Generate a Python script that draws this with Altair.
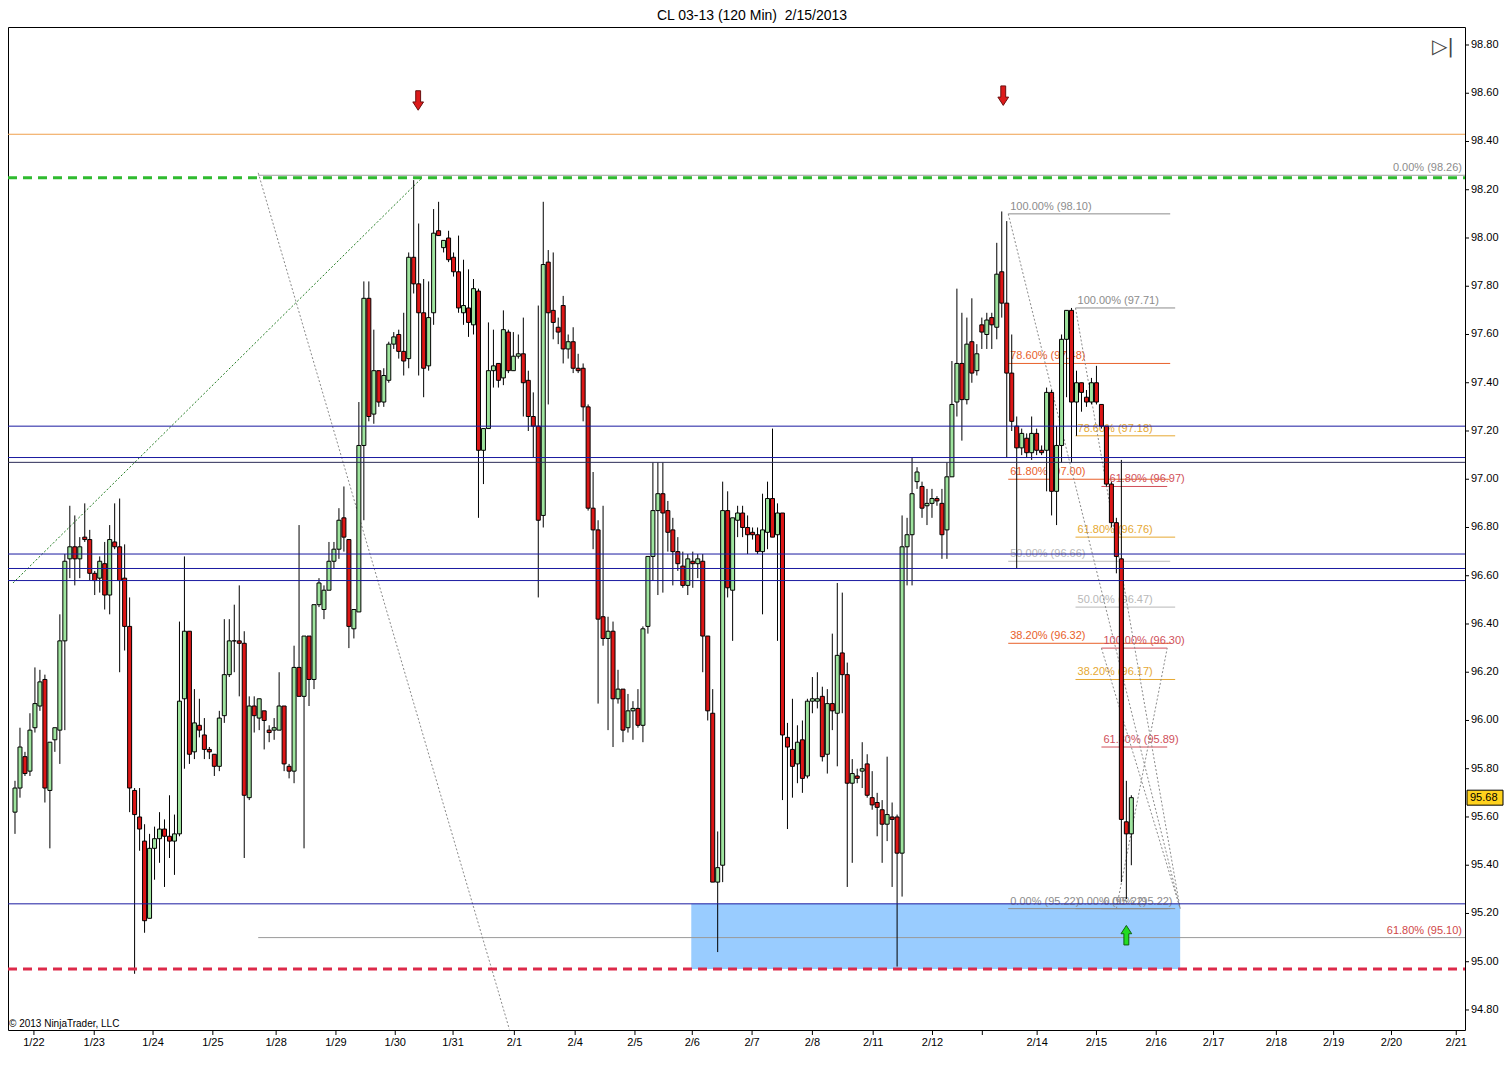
import altair as alt
import pandas as pd

# ---------------- candle data (CL 03-13, 120 min bars) ----------------
opens = [95.62, 95.72, 95.85, 95.79, 95.97, 96.06, 96.17, 95.71, 95.92, 95.96,
         96.33, 96.67, 96.72, 96.67, 96.76, 96.75, 96.61, 96.59, 96.65, 96.52,
         96.74, 96.72, 96.59, 96.39, 95.71, 95.60, 95.50, 95.18, 95.47, 95.51,
         95.55, 95.52, 95.50, 95.53, 96.09, 96.37, 95.87, 95.98, 95.94, 95.88,
         95.86, 95.81, 96.02, 96.19, 96.33, 96.33, 96.32, 95.68, 96.06, 96.01,
         96.04, 95.96, 95.96, 95.96, 96.06, 95.81, 95.79, 96.22, 96.10, 96.35,
         96.17, 96.48, 96.46, 96.54, 96.66, 96.71, 96.84, 96.75, 96.38, 96.45,
         97.14, 97.75, 97.27, 97.45, 97.32, 97.41, 97.56, 97.60, 97.53, 97.50,
         97.92, 97.81, 97.69, 97.47, 97.69, 98.03, 97.96, 98.00, 97.92, 97.86,
         97.69, 97.71, 97.64, 97.78, 97.12, 97.21, 97.45, 97.48, 97.42, 97.61,
         97.45, 97.51, 97.52, 97.41, 97.26, 97.22, 96.85, 97.90, 97.70, 97.63,
         97.72, 97.54, 97.57, 97.46, 97.46, 97.30, 96.88, 96.79, 96.43, 96.34,
         96.37, 96.09, 96.13, 95.97, 96.04, 96.05, 95.98, 96.39, 96.68, 96.87,
         96.94, 96.87, 96.79, 96.70, 96.64, 96.56, 96.66, 96.65, 96.66, 96.35,
         96.03, 95.33, 95.40, 96.87, 96.54, 96.83, 96.86, 96.80, 96.78, 96.77,
         96.70, 96.78, 96.92, 96.77, 96.86, 95.93, 95.88, 95.82, 95.92, 95.77,
         96.08, 96.08, 96.10, 95.86, 96.07, 96.03, 96.28, 96.19, 95.74, 95.77,
         95.79, 95.82, 95.68, 95.66, 95.63, 95.57, 95.60, 95.60, 95.45, 96.72,
         96.77, 96.99, 96.97, 96.89, 96.90, 96.92, 96.90, 96.79, 97.01, 97.32,
         97.48, 97.33, 97.57, 97.45, 97.64, 97.60, 97.67, 97.63, 97.86, 97.73,
         97.44, 97.22, 97.13, 97.17, 97.11, 97.19, 97.12, 97.12, 97.36, 96.95,
         97.14, 97.58, 97.70, 97.32, 97.40, 97.34, 97.32, 97.40, 97.31, 97.22,
         96.98, 96.82, 96.67, 95.58, 95.53]

highs = [95.75, 95.97, 95.87, 96.03, 96.22, 96.21, 96.19, 95.91, 95.97, 96.44,
         96.69, 96.89, 96.85, 96.76, 96.90, 96.79, 96.62, 96.68, 96.74, 96.81,
         96.90, 96.92, 96.73, 96.51, 95.72, 95.72, 95.57, 95.53, 95.56, 95.62,
         95.59, 95.69, 95.61, 96.41, 96.68, 96.37, 96.13, 96.09, 96.01, 95.89,
         95.86, 96.04, 96.42, 96.42, 96.48, 96.56, 96.37, 96.10, 96.10, 96.09,
         96.04, 95.98, 96.01, 96.20, 96.06, 95.82, 96.31, 96.81, 96.35, 96.35,
         96.48, 96.59, 96.56, 96.74, 96.74, 96.88, 96.97, 96.75, 96.46, 97.32,
         97.82, 97.82, 97.62, 97.45, 97.46, 97.57, 97.61, 97.62, 97.69, 97.94,
         98.24, 98.06, 97.83, 97.82, 98.12, 98.15, 97.99, 98.03, 97.94, 98.01,
         97.91, 97.87, 97.83, 97.79, 97.21, 97.65, 97.62, 97.48, 97.70, 97.62,
         97.61, 97.60, 97.67, 97.45, 97.36, 97.72, 98.15, 97.95, 97.94, 97.67,
         97.76, 97.60, 97.63, 97.52, 97.48, 97.31, 97.03, 96.83, 96.89, 96.43,
         96.41, 96.21, 96.13, 96.11, 96.08, 96.13, 96.39, 96.68, 97.07, 97.07,
         97.07, 96.91, 96.84, 96.76, 96.70, 96.69, 96.70, 96.69, 96.69, 96.35,
         96.13, 95.54, 96.99, 96.95, 96.84, 96.89, 96.89, 96.85, 96.80, 96.80,
         96.94, 96.99, 97.21, 96.90, 96.86, 95.99, 96.09, 95.98, 96.00, 96.09,
         96.18, 96.20, 96.14, 96.13, 96.36, 96.57, 96.53, 96.24, 95.84, 95.80,
         95.91, 95.86, 95.79, 95.70, 95.67, 95.85, 95.66, 95.61, 96.85, 96.84,
         97.09, 97.05, 96.99, 96.96, 96.96, 96.93, 96.96, 97.07, 97.49, 97.79,
         97.69, 97.67, 97.75, 97.56, 97.67, 97.69, 97.69, 97.98, 98.11, 98.07,
         97.60, 97.26, 97.21, 97.19, 97.26, 97.21, 97.14, 97.38, 97.37, 97.22,
         97.60, 97.70, 97.71, 97.45, 97.40, 97.37, 97.42, 97.47, 97.31, 97.22,
         96.99, 96.84, 97.08, 95.75, 95.69]

lows = [95.53, 95.68, 95.77, 95.77, 95.95, 96.04, 95.66, 95.47, 95.87, 95.82,
        95.96, 96.59, 96.56, 96.59, 96.74, 96.58, 96.52, 96.53, 96.46, 96.44,
        96.71, 96.20, 96.29, 95.62, 94.95, 95.46, 95.12, 95.18, 95.34, 95.41,
        95.31, 95.43, 95.36, 95.52, 95.80, 95.82, 95.84, 95.93, 95.84, 95.84,
        95.77, 95.79, 95.99, 96.18, 96.20, 96.10, 95.43, 95.67, 95.95, 95.96,
        95.88, 95.91, 95.92, 95.96, 95.79, 95.76, 95.74, 96.10, 95.47, 96.06,
        96.13, 96.47, 96.42, 96.54, 96.63, 96.67, 96.70, 96.30, 96.34, 96.45,
        96.83, 97.24, 97.23, 97.30, 97.30, 97.40, 97.54, 97.50, 97.43, 97.46,
        97.77, 97.43, 97.34, 97.45, 97.64, 98.01, 97.94, 97.90, 97.84, 97.69,
        97.64, 97.59, 97.60, 96.84, 96.98, 97.21, 97.38, 97.38, 97.39, 97.44,
        97.45, 97.50, 97.26, 97.20, 97.09, 96.51, 96.80, 97.31, 97.58, 97.56,
        97.48, 97.50, 97.44, 97.44, 97.24, 96.87, 96.71, 96.07, 96.31, 95.96,
        95.89, 96.07, 95.91, 95.95, 95.92, 95.97, 95.91, 96.36, 96.58, 96.52,
        96.53, 96.70, 96.56, 96.62, 96.55, 96.52, 96.55, 96.59, 96.20, 96.00,
        95.33, 95.04, 95.33, 96.51, 96.33, 96.76, 96.76, 96.69, 96.75, 96.69,
        96.44, 96.71, 96.76, 96.33, 95.67, 95.55, 95.68, 95.74, 95.70, 95.76,
        96.03, 96.05, 95.83, 95.78, 95.96, 95.81, 96.03, 95.31, 95.41, 95.74,
        95.72, 95.68, 95.63, 95.52, 95.41, 95.50, 95.31, 94.98, 95.27, 96.56,
        96.56, 96.96, 96.84, 96.81, 96.84, 96.89, 96.67, 96.67, 97.01, 97.26,
        97.16, 97.31, 97.40, 97.43, 97.54, 97.54, 97.54, 97.58, 97.67, 97.09,
        97.20, 96.63, 97.10, 97.09, 97.08, 97.10, 97.10, 96.95, 96.85, 96.81,
        97.07, 97.34, 97.07, 97.18, 97.28, 97.30, 97.31, 97.31, 97.21, 96.97,
        96.80, 96.61, 95.33, 95.26, 95.40]

closes = [95.72, 95.89, 95.78, 95.96, 96.07, 96.16, 95.72, 95.91, 95.97, 96.33,
          96.66, 96.72, 96.67, 96.72, 96.75, 96.61, 96.58, 96.66, 96.52, 96.75,
          96.72, 96.58, 96.39, 95.72, 95.61, 95.55, 95.17, 95.47, 95.51, 95.55,
          95.52, 95.50, 95.53, 96.08, 96.37, 95.86, 95.99, 95.96, 95.88, 95.87,
          95.81, 96.01, 96.19, 96.33, 96.33, 96.32, 95.69, 96.06, 96.02, 96.09,
          96.00, 95.95, 95.97, 96.06, 95.82, 95.79, 96.22, 96.10, 96.35, 96.17,
          96.48, 96.57, 96.54, 96.66, 96.71, 96.83, 96.76, 96.39, 96.46, 97.14,
          97.75, 97.26, 97.45, 97.32, 97.43, 97.56, 97.59, 97.53, 97.49, 97.92,
          97.81, 97.69, 97.46, 97.67, 98.02, 98.01, 97.99, 97.91, 97.86, 97.71,
          97.72, 97.65, 97.79, 97.12, 97.21, 97.45, 97.47, 97.41, 97.62, 97.45,
          97.51, 97.52, 97.40, 97.26, 97.22, 96.83, 97.89, 97.69, 97.65, 97.61,
          97.54, 97.57, 97.46, 97.45, 97.30, 96.88, 96.79, 96.42, 96.34, 96.37,
          96.09, 96.13, 95.96, 96.04, 96.05, 95.98, 96.38, 96.68, 96.87, 96.94,
          96.86, 96.78, 96.70, 96.65, 96.56, 96.67, 96.65, 96.67, 96.35, 96.04,
          95.33, 95.39, 96.87, 96.55, 96.84, 96.86, 96.80, 96.77, 96.77, 96.70,
          96.79, 96.92, 96.76, 96.86, 95.94, 95.89, 95.81, 95.91, 95.76, 96.08,
          96.09, 96.09, 95.85, 96.07, 96.04, 96.27, 96.19, 95.74, 95.78, 95.76,
          95.80, 95.69, 95.65, 95.64, 95.57, 95.61, 95.59, 95.45, 96.72, 96.77,
          96.94, 97.03, 96.88, 96.90, 96.92, 96.91, 96.77, 97.01, 97.31, 97.48,
          97.33, 97.56, 97.44, 97.52, 97.61, 97.66, 97.64, 97.85, 97.73, 97.44,
          97.24, 97.13, 97.19, 97.11, 97.19, 97.12, 97.11, 97.36, 96.95, 97.14,
          97.58, 97.70, 97.32, 97.40, 97.36, 97.32, 97.40, 97.32, 97.22, 96.98,
          96.82, 96.68, 95.59, 95.53, 95.68]

# ---------------- date axis (bar index where each session label sits) ----------------
date_labels = ["1/22", "1/23", "1/24", "1/25", "1/28", "1/29", "1/30", "1/31", "2/1",
               "2/4", "2/5", "2/6", "2/7", "2/8", "2/11", "2/12", "", "2/14", "2/15",
               "2/16", "2/17", "2/18", "2/19", "2/20", "2/21"]
date_bars = [3.8, 15.9, 27.7, 39.7, 52.4, 64.4, 76.3, 87.9, 100.2,
             112.4, 124.4, 135.9, 147.9, 160.0, 172.2, 184.1, 194.1, 205.1, 217.0,
             229.0, 240.5, 253.1, 264.6, 276.2, 289.2]

price_ticks = [94.8, 95.0, 95.2, 95.4, 95.6, 95.8, 96.0, 96.2, 96.4, 96.6, 96.8,
               97.0, 97.2, 97.4, 97.6, 97.8, 98.0, 98.2, 98.4, 98.6, 98.8]

# ---------------- drawn objects ----------------
blue_levels = [97.22, 97.09, 96.69, 96.63, 96.58, 95.24]
dark_levels = [97.07]
orange_level = [98.43]
green_dash_level = [98.25]
red_dash_level = [94.97]

zone_start, zone_end, zone_low, zone_high = 135.7, 233.8, 94.97, 95.24

long_fib_start = 48.8
long_fib_prices = [98.26, 95.10]
long_fib_labels = ["0.00% (98.26)", "61.80% (95.10)"]

fib_sets = {"A": (199.3, 231.8), "B": (212.8, 232.8), "C": (218.0, 231.2)}
fibA_pct = [100.0, 78.6, 61.8, 50.0, 38.2, 0.0]
fibA_price = [98.10, 97.48, 97.00, 96.66, 96.32, 95.22]
fibB_pct = [100.0, 78.6, 61.8, 50.0, 38.2, 0.0]
fibB_price = [97.71, 97.18, 96.76, 96.47, 96.17, 95.22]
fibC_pct = [161.8, 100.0, 61.8, 0.0]
fibC_price = [96.97, 96.30, 95.89, 95.22]

diag_b1 = [-0.4, 48.8, 199.3, 212.8, 218.0, 221.0]
diag_p1 = [96.57, 98.27, 98.10, 97.71, 96.30, 95.22]
diag_b2 = [81.7, 99.2, 233.8, 233.8, 233.8, 231.2]
diag_p2 = [98.25, 94.72, 95.22, 95.22, 95.22, 96.30]
diag_kind = ["green", "grey", "grey", "grey", "grey", "grey"]

down_arrow_bars = [80.9, 198.3]
down_arrow_prices = [98.57, 98.59]
up_arrow_bars = [223.0]
up_arrow_prices = [95.11]

last_price = 95.68

# ---------------- geometry ----------------
W, H = 1457, 1003
XDOM = [-0.4, 289.95]
YDOM = [94.717, 98.8746]
FONT = "Liberation Sans"

xs = alt.Scale(domain=XDOM, nice=False, zero=False)
ys = alt.Scale(domain=YDOM, nice=False, zero=False)

candles = pd.DataFrame({"bar": list(range(len(opens))), "open": opens, "high": highs,
                        "low": lows, "close": closes})
assert len(opens) == len(highs) == len(lows) == len(closes)
candles["dir"] = ["up" if c >= o else "down" for o, c in zip(opens, closes)]

X = lambda f: alt.X(f, type="quantitative", scale=xs, axis=None)
Y = lambda f: alt.Y(f, type="quantitative", scale=ys, axis=None)

layers = []

# demand zone
zone_df = pd.DataFrame({"x1": [zone_start], "x2": [zone_end], "lo": [zone_low], "hi": [zone_high]})
layers.append(alt.Chart(zone_df).mark_rect(color="#99ccff", opacity=1).encode(
    x=X("x1"), x2="x2", y=Y("lo"), y2="hi"))

# long fib lines
lf = pd.DataFrame({"x1": [long_fib_start] * 2, "price": long_fib_prices,
                   "label": long_fib_labels, "col": ["#a0a0a0", "#9a9a9a"],
                   "tcol": ["#8c8c8c", "#d04848"]})
layers.append(alt.Chart(lf).mark_rule(strokeWidth=1).encode(
    x=X("x1"), x2=alt.value(W), y=Y("price"), color=alt.Color("col:N", scale=None)))
layers.append(alt.Chart(lf).mark_text(align="right", baseline="middle", font=FONT, fontSize=11, dy=-7).encode(
    x=alt.value(W - 3), y=Y("price"), text="label:N", color=alt.Color("tcol:N", scale=None)))

# short fib sets
colA = {100.0: "#8c8c8c", 78.6: "#e8602a", 61.8: "#e8602a", 50.0: "#b8b8b8", 38.2: "#e8602a", 0.0: "#8c8c8c"}
colB = {100.0: "#8c8c8c", 78.6: "#e6a832", 61.8: "#e6a832", 50.0: "#b8b8b8", 38.2: "#e6a832", 0.0: "#8c8c8c"}
colC = {161.8: "#d0505a", 100.0: "#d0505a", 61.8: "#d0505a", 0.0: "#8c8c8c"}
rows = []
for name, pcts, prices, cmap in [("A", fibA_pct, fibA_price, colA), ("B", fibB_pct, fibB_price, colB),
                                 ("C", fibC_pct, fibC_price, colC)]:
    s, e = fib_sets[name]
    for p, pr in zip(pcts, prices):
        rows.append({"x1": s, "x2": e, "price": pr, "col": cmap[p],
                     "label": f"{p:.2f}% ({pr:.2f})"})
fib_df = pd.DataFrame(rows)
layers.append(alt.Chart(fib_df).mark_rule(strokeWidth=1).encode(
    x=X("x1"), x2="x2", y=Y("price"), color=alt.Color("col:N", scale=None)))
layers.append(alt.Chart(fib_df).mark_text(align="left", baseline="middle", font=FONT, fontSize=11, dx=2, dy=-7).encode(
    x=X("x1"), y=Y("price"), text="label:N", color=alt.Color("col:N", scale=None)))

# dotted diagonals
dg = pd.DataFrame({"b1": diag_b1, "p1": diag_p1, "b2": diag_b2, "p2": diag_p2, "kind": diag_kind})
dg["col"] = ["#1f7a1f" if k == "green" else "#8a8a8a" for k in diag_kind]
layers.append(alt.Chart(dg).mark_rule(strokeWidth=1, strokeDash=[2, 2], clip=True).encode(
    x=X("b1"), x2="b2", y=Y("p1"), y2="p2", color=alt.Color("col:N", scale=None)))

# wicks
layers.append(alt.Chart(candles).mark_rule(color="black", strokeWidth=1).encode(
    x=X("bar"), y=Y("low"), y2="high"))
# bodies
layers.append(alt.Chart(candles).mark_bar(size=4, stroke="black", strokeWidth=1).encode(
    x=X("bar"), y=Y("open"), y2="close",
    color=alt.Color("dir:N", scale=alt.Scale(domain=["up", "down"], range=["#9ee49e", "#dc1616"]),
                    legend=None)))

# full-width lines (drawn over candles)
def hlines(levels, color, width=1, dash=None):
    df = pd.DataFrame({"price": levels})
    kw = dict(color=color, strokeWidth=width)
    if dash:
        kw["strokeDash"] = dash
    return alt.Chart(df).mark_rule(**kw).encode(y=Y("price"), x=alt.value(0), x2=alt.value(W))

layers.append(hlines(orange_level, "#f0a04c"))
layers.append(hlines(blue_levels, "#1a1aa0"))
layers.append(hlines(dark_levels, "#2c2c58"))
layers.append(hlines(green_dash_level, "#2fbb2f", 3, [9, 6]))
layers.append(hlines(red_dash_level, "#dd2a4a", 3, [9, 6]))

# arrows
down_path = "M -0.25 -1 L 0.25 -1 L 0.25 0.15 L 0.55 0.15 L 0 1 L -0.55 0.15 L -0.25 0.15 Z"
up_path = "M -0.25 1 L 0.25 1 L 0.25 -0.15 L 0.55 -0.15 L 0 -1 L -0.55 -0.15 L -0.25 -0.15 Z"
da = pd.DataFrame({"bar": down_arrow_bars, "price": down_arrow_prices})
ua = pd.DataFrame({"bar": up_arrow_bars, "price": up_arrow_prices})
layers.append(alt.Chart(da).mark_point(shape=down_path, size=380, filled=True, fill="#dd1a1a",
                                       stroke="#6a1010", strokeWidth=1, opacity=1).encode(
    x=X("bar"), y=Y("price")))
layers.append(alt.Chart(ua).mark_point(shape=up_path, size=380, filled=True, fill="#22dd22",
                                       stroke="#106010", strokeWidth=1, opacity=1).encode(
    x=X("bar"), y=Y("price")))

# right price axis (ticks + labels)
pt = pd.DataFrame({"price": price_ticks, "label": [f"{p:.2f}" for p in price_ticks]})
layers.append(alt.Chart(pt).mark_rule(color="black", strokeWidth=1).encode(
    y=Y("price"), x=alt.value(W), x2=alt.value(W + 4)))
layers.append(alt.Chart(pt).mark_text(align="left", baseline="middle", font=FONT, fontSize=11,
                                      color="black").encode(
    x=alt.value(W + 6), y=Y("price"), text="label:N"))

# last price marker on the right axis
lp = pd.DataFrame({"price": [last_price], "txt": [f"{last_price:.2f}"]})
lp["lo"] = lp["price"] - 0.031
lp["hi"] = lp["price"] + 0.031
layers.append(alt.Chart(lp).mark_rect(fill="#ffd21e", stroke="black", strokeWidth=1).encode(
    x=alt.value(W + 2), x2=alt.value(W + 38), y=Y("lo"), y2="hi"))
layers.append(alt.Chart(lp).mark_text(align="left", baseline="middle", font=FONT, fontSize=11,
                                      color="black").encode(
    x=alt.value(W + 5), y=Y("price"), text="txt:N"))

# date axis
dd = pd.DataFrame({"bar": date_bars, "label": date_labels})
layers.append(alt.Chart(dd).mark_rule(color="black", strokeWidth=1).encode(
    x=X("bar"), y=alt.value(H), y2=alt.value(H + 5)))
layers.append(alt.Chart(dd).mark_text(baseline="middle", align="center", font=FONT, fontSize=11,
                                      color="black").encode(
    x=X("bar"), y=alt.value(H + 13), text="label:N"))

# title, copyright, icon
misc = pd.DataFrame({"t": ["CL 03-13 (120 Min)\u00a0 2/15/2013"]})
layers.append(alt.Chart(misc).mark_text(font=FONT, fontSize=14, color="black", align="center",
                                        baseline="top").encode(
    x=alt.value(744), y=alt.value(-18), text="t:N"))
cp = pd.DataFrame({"t": ["\u00a9 2013 NinjaTrader, LLC"]})
layers.append(alt.Chart(cp).mark_text(font=FONT, fontSize=10, color="black", align="left",
                                      baseline="middle").encode(
    x=alt.value(1), y=alt.value(H - 6), text="t:N"))
ic = pd.DataFrame({"t": ["\u25b7|"]})
layers.append(alt.Chart(ic).mark_text(font="DejaVu Sans", fontSize=20, color="#444444", align="center",
                                      baseline="middle").encode(
    x=alt.value(W - 22), y=alt.value(20), text="t:N"))

chart = alt.layer(*layers).properties(
    width=W, height=H,
    autosize=alt.AutoSizeParams(type="none"),
    padding={"left": 0, "top": 19, "right": 39, "bottom": 38},
    background="white",
).configure_view(stroke="black", strokeWidth=1)

chart.save("out.html", embed_options={"renderer": "svg", "actions": False})
